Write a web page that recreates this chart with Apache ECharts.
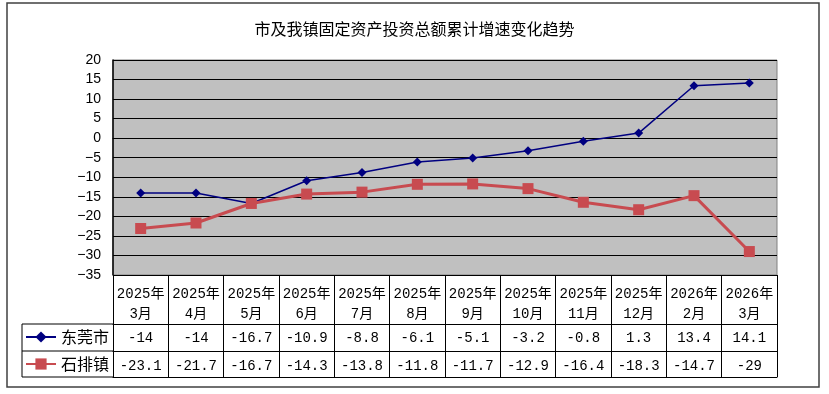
<!DOCTYPE html>
<html><head><meta charset="utf-8">
<script src="https://cdn.jsdelivr.net/npm/echarts@6/dist/echarts.min.js"></script>
<style>html,body{margin:0;padding:0;background:#fff}#c{width:829px;height:394px}</style>
</head><body><div id="c"></div>
<script>
const categories = ["2025年\n3月","2025年\n4月","2025年\n5月","2025年\n6月","2025年\n7月","2025年\n8月","2025年\n9月","2025年\n10月","2025年\n11月","2025年\n12月","2026年\n2月","2026年\n3月"];
const dongguan = [-14,-14,-16.7,-10.9,-8.8,-6.1,-5.1,-3.2,-0.8,1.3,13.4,14.1];
const shipai = [-23.1,-21.7,-16.7,-14.3,-13.8,-11.8,-11.7,-12.9,-16.4,-18.3,-14.7,-29];
const seriesNames = ["东莞市","石排镇"];
const yTicks = {min:-35,max:20,interval:5};

const tableFont = "'Liberation Mono','Noto Sans CJK SC',monospace";
const noSplit = {show:false};
const chart = echarts.init(document.getElementById('c'));
chart.setOption({
  animation:false,
  backgroundColor:'#fff',
  title:{text:'市及我镇固定资产投资总额累计增速变化趋势',left:'center',top:16,
    textStyle:{fontSize:16,fontWeight:'normal',color:'#000',fontFamily:"'Noto Sans CJK SC',sans-serif"}},
  legend:{orient:'vertical',left:25,top:329,padding:0,itemGap:11,itemWidth:30,itemHeight:14,
    data:seriesNames,
    textStyle:{fontSize:16,color:'#000',fontFamily:"'Noto Sans CJK SC',sans-serif"}},
  grid:[
    {left:113,right:52,top:60,bottom:119,show:true,backgroundColor:'#C0C0C0',borderColor:'#808080',borderWidth:1},
    {left:113,right:52,top:275,height:102,show:false}
  ],
  xAxis:[
    {type:'category',gridIndex:0,data:categories,position:'bottom',boundaryGap:true,
      axisLine:{lineStyle:{color:'#000',width:1}},axisTick:{show:false},splitLine:noSplit,
      axisLabel:{interval:0,margin:9,fontSize:14,lineHeight:20,color:'#000',fontFamily:tableFont}},
    {type:'category',gridIndex:0,data:categories,position:'bottom',offset:49,
      axisLine:{lineStyle:{color:'#000',width:1}},axisTick:{show:false},splitLine:noSplit,
      axisLabel:{interval:0,margin:7,fontSize:14,color:'#000',fontFamily:tableFont,
        formatter:(v,i)=>String(dongguan[i])}},
    {type:'category',gridIndex:0,data:categories,position:'bottom',offset:76,
      axisLine:{lineStyle:{color:'#000',width:1}},axisTick:{show:false},splitLine:noSplit,
      axisLabel:{interval:0,margin:8,fontSize:14,color:'#000',fontFamily:tableFont,
        formatter:(v,i)=>String(shipai[i])}},
    {type:'category',gridIndex:0,data:categories,position:'bottom',offset:102,
      axisLine:{lineStyle:{color:'#000',width:1}},axisTick:{show:false},axisLabel:{show:false},splitLine:noSplit},
    {type:'category',gridIndex:1,data:categories,boundaryGap:true,
      axisLine:{show:false},axisTick:{show:false},axisLabel:{show:false},
      splitLine:{show:true,interval:0,lineStyle:{color:'#000',width:1}}}
  ],
  yAxis:[
    {type:'value',gridIndex:0,min:yTicks.min,max:yTicks.max,interval:yTicks.interval,
      axisLine:{show:true,lineStyle:{color:'#000',width:1.5}},
      axisTick:{show:true,inside:true,length:5,lineStyle:{color:'#000'}},
      axisLabel:{fontSize:14,color:'#000',margin:12,fontFamily:"'Liberation Sans',Arial,sans-serif",
        formatter:v=>String(v).replace('-','\u2212')},
      splitLine:{show:true,lineStyle:{color:'#000',width:1}}},
    {type:'value',gridIndex:1,min:0,max:1,show:false,splitLine:noSplit}
  ],
  series:[
    {name:seriesNames[0],type:'line',data:dongguan,xAxisIndex:0,yAxisIndex:0,symbol:'diamond',symbolSize:9,
      itemStyle:{color:'#000080'},lineStyle:{color:'#000080',width:1.5},z:3},
    {name:seriesNames[1],type:'line',data:shipai,xAxisIndex:0,yAxisIndex:0,symbol:'rect',symbolSize:11,
      itemStyle:{color:'#C84B50'},lineStyle:{color:'#C84B50',width:3},z:4}
  ],
  graphic:[
    {type:'rect',shape:{x:7,y:3,width:812,height:384},style:{fill:'none',stroke:'#404040',lineWidth:1.5},z:0},
    {type:'line',shape:{x1:22,y1:324,x2:113,y2:324},style:{stroke:'#000',lineWidth:1}},
    {type:'line',shape:{x1:22,y1:351,x2:113,y2:351},style:{stroke:'#000',lineWidth:1}},
    {type:'line',shape:{x1:22,y1:377,x2:113,y2:377},style:{stroke:'#000',lineWidth:1}},
    {type:'line',shape:{x1:22,y1:324,x2:22,y2:377},style:{stroke:'#000',lineWidth:1}}
  ]
});
</script></body></html>
